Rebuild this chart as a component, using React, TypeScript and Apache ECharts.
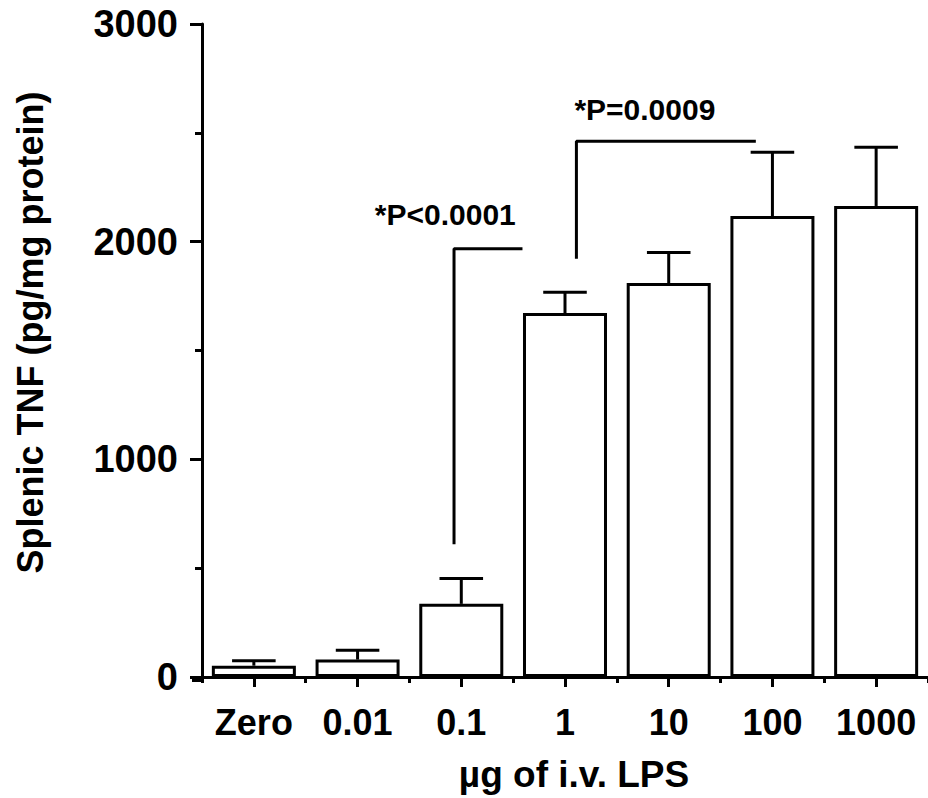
import React, { useEffect, useRef } from "react";
import * as echarts from "echarts";

const categories = ["Zero", "0.01", "0.1", "1", "10", "100", "1000"];
const tnfMeans = [52, 80, 336, 1672, 1810, 2118, 2164];
const tnfErrorTops = [75, 123, 452, 1768, 1950, 2411, 2434];
const yMin = 0;
const yMax = 3000;
const yInterval = 1000;
// bracket lines in (category-index, value) coordinates
const bracketLow = [[1.93, 610], [1.93, 1967], [2.59, 1967]];
const bracketHigh = [[3.11, 1922], [3.11, 2461], [4.84, 2461]];
const annotationTexts = ["*P<0.0001", "*P=0.0009"];
const annotationX = [1.846, 3.77];
const annotationY = [2127, 2607];

const FONT = "'Liberation Sans', Arial, Helvetica, sans-serif";

export default function App() {
  const ref = useRef<HTMLDivElement>(null);
  useEffect(() => {
    if (!ref.current) return;
    const chart = echarts.init(ref.current, null, { renderer: "svg" });
    const black = "#000";
    const option: any = {
      animation: false,
      backgroundColor: "#fff",
      grid: { left: 202, top: 24, width: 734, height: 656.5, containLabel: false },
      xAxis: [
        {
          type: "category",
          position: "bottom",
          data: categories,
          boundaryGap: true,
          axisLine: { show: true, onZero: false, lineStyle: { color: black, width: 3 } },
          axisTick: { show: true, alignWithLabel: true, interval: 0, length: 10, lineStyle: { color: black, width: 3 } },
          axisLabel: { color: black, fontFamily: FONT, fontWeight: "bold", fontSize: 36, margin: 27, interval: 0 },
          splitLine: { show: false },
          name: "µg of i.v. LPS",
          nameLocation: "middle",
          nameGap: 79,
          nameTextStyle: { color: black, fontFamily: FONT, fontWeight: "bold", fontSize: 37, padding: [0, 0, 0, 18] },
        },
        {
          type: "category",
          position: "bottom",
          data: categories,
          boundaryGap: true,
          axisLine: { show: false, onZero: false },
          axisTick: { show: true, interval: 0, length: 6, lineStyle: { color: black, width: 3 } },
          axisLabel: { show: false },
          splitLine: { show: false },
        },
        {
          type: "value",
          position: "bottom",
          min: -0.5,
          max: 6.5,
          show: false,
          axisLine: { onZero: false },
        },
      ],
      yAxis: {
        type: "value",
        min: yMin,
        max: yMax,
        interval: yInterval,
        axisLine: { show: true, onZero: false, lineStyle: { color: black, width: 3 } },
        axisTick: { show: true, length: 12, lineStyle: { color: black, width: 3 } },
        minorTick: { show: true, splitNumber: 2, length: 7, lineStyle: { color: black, width: 3 } },
        splitLine: { show: false },
        minorSplitLine: { show: false },
        axisLabel: {
          color: black,
          fontFamily: FONT,
          fontWeight: "bold",
          fontSize: 38,
          margin: 24,
          formatter: (v: number) => String(v),
        },
        name: "Splenic TNF (pg/mg protein)",
        nameLocation: "middle",
        nameGap: 154,
        nameTextStyle: { color: black, fontFamily: FONT, fontWeight: "bold", fontSize: 36, padding: [0, 0, 0, 36] },
      },
      graphic: [
        {
          type: "line",
          shape: { x1: 192, y1: 680.5, x2: 203, y2: 680.5 },
          style: { stroke: black, lineWidth: 3 },
        },
      ],
      series: [
        {
          type: "bar",
          xAxisIndex: 0,
          data: tnfMeans,
          barWidth: "81%",
          itemStyle: { color: "#fff", borderColor: black, borderWidth: 3 },
          z: 2,
        },
        {
          type: "custom",
          xAxisIndex: 0,
          data: categories.map((_, i) => [i, tnfMeans[i], tnfErrorTops[i]]),
          encode: { x: 0, y: 2 },
          z: 3,
          renderItem: (params: any, api: any) => {
            const x = api.value(0);
            const top = api.coord([x, api.value(2)]);
            const base = api.coord([x, api.value(1)]);
            const half = api.size([1, 0])[0] * 0.21;
            return {
              type: "group",
              children: [
                { type: "line", shape: { x1: top[0], y1: top[1], x2: base[0], y2: base[1] }, style: { stroke: black, lineWidth: 3 } },
                { type: "line", shape: { x1: top[0] - half, y1: top[1], x2: top[0] + half, y2: top[1] }, style: { stroke: black, lineWidth: 3 } },
              ],
            };
          },
        },
        {
          type: "line",
          xAxisIndex: 2,
          data: bracketLow,
          symbol: "none",
          lineStyle: { color: black, width: 3 },
          z: 4,
        },
        {
          type: "line",
          xAxisIndex: 2,
          data: bracketHigh,
          symbol: "none",
          lineStyle: { color: black, width: 3 },
          z: 4,
        },
        {
          type: "scatter",
          xAxisIndex: 2,
          symbolSize: 0,
          itemStyle: { opacity: 1 },
          data: annotationTexts.map((t, i) => ({ value: [annotationX[i], annotationY[i]], name: t })),
          label: {
            show: true,
            position: "inside",
            formatter: (p: any) => p.name,
            color: black,
            opacity: 1,
            fontFamily: FONT,
            fontWeight: "bold",
            fontSize: 30,
            align: "center",
            verticalAlign: "middle",
          },
          z: 5,
        },
      ],
    };
    chart.setOption(option);
    return () => chart.dispose();
  }, []);
  return <div ref={ref} style={{ position: "absolute", left: 0, top: 0, width: 928, height: 798 }} />;
}
